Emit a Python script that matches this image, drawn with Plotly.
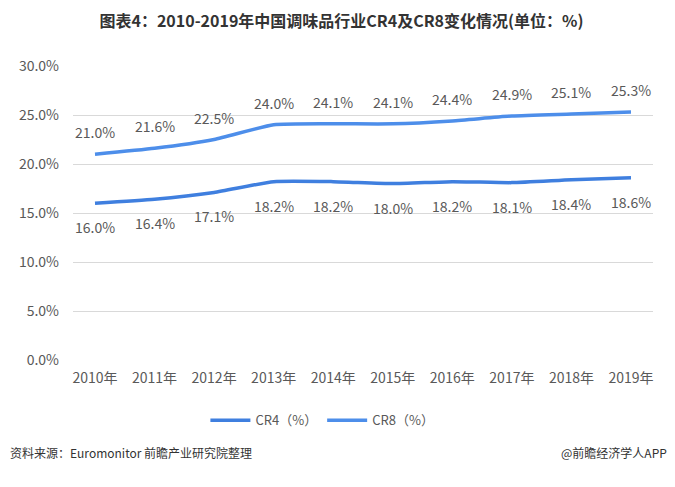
import plotly.graph_objects as go

years = ["2010年", "2011年", "2012年", "2013年", "2014年",
         "2015年", "2016年", "2017年", "2018年", "2019年"]
cr4 = [16.0, 16.4, 17.1, 18.2, 18.2, 18.0, 18.2, 18.1, 18.4, 18.6]
cr8 = [21.0, 21.6, 22.5, 24.0, 24.1, 24.1, 24.4, 24.9, 25.1, 25.3]
y_ticks = [0, 5, 10, 15, 20, 25, 30]

CR4_COLOR = "#3F7FDF"
CR8_COLOR = "#4D8EEA"
TEXT_GRAY = "#595959"
FONT = "Noto Sans CJK SC"

fig = go.Figure()

fig.add_trace(go.Scatter(
    x=years, y=cr4, name="CR4（%）", mode="lines",
    line=dict(color=CR4_COLOR, width=3.5, shape="spline", smoothing=0.5),
))
fig.add_trace(go.Scatter(
    x=years, y=cr8, name="CR8（%）", mode="lines",
    line=dict(color=CR8_COLOR, width=3.5, shape="spline", smoothing=0.5),
))

# 数据标签：CR8 在上，CR4 在下
for yr, v in zip(years, cr8):
    fig.add_annotation(x=yr, y=v, text=f"{v:.1f}%", showarrow=False,
                       yshift=22, font=dict(size=14, color=TEXT_GRAY, family=FONT))
for yr, v in zip(years, cr4):
    fig.add_annotation(x=yr, y=v, text=f"{v:.1f}%", showarrow=False,
                       yshift=-24, font=dict(size=14, color=TEXT_GRAY, family=FONT))

# 资料来源
fig.add_annotation(xref="paper", yref="paper", x=-0.112, y=-0.316,
                   xanchor="left", yanchor="middle", showarrow=False,
                   text="资料来源：Euromonitor 前瞻产业研究院整理",
                   font=dict(size=12, color="#333333", family=FONT))
fig.add_annotation(xref="paper", yref="paper", x=1.028, y=-0.316,
                   xanchor="right", yanchor="middle", showarrow=False,
                   text="@前瞻经济学人APP",
                   font=dict(size=12, color="#333333", family=FONT))

# 页面自带 8px 边距，图幅相应缩小
fig.update_layout(
    width=667, height=479,
    title=dict(text="<b>图表4：2010-2019年中国调味品行业CR4及CR8变化情况(单位：%)</b>",
               x=0.5, xanchor="center", y=0.973, yanchor="middle",
               font=dict(size=16, color="#333333", family=FONT)),
    margin=dict(l=65, r=22, t=58, b=127),
    plot_bgcolor="white", paper_bgcolor="white",
    showlegend=True,
    legend=dict(orientation="h", x=0.43, xanchor="center", y=-0.205, yanchor="middle",
                font=dict(size=13, color=TEXT_GRAY, family=FONT),
                itemwidth=40, traceorder="normal"),
    font=dict(family=FONT, color=TEXT_GRAY),
)
fig.update_xaxes(showgrid=False, showline=False, ticks="", ticklabelstandoff=8,
                 tickfont=dict(size=14, color=TEXT_GRAY, family=FONT))
fig.update_yaxes(range=[0, 30], tickvals=y_ticks,
                 ticktext=[f"{t:.1f}%" for t in y_ticks],
                 showgrid=True, gridcolor="#D9D9D9", gridwidth=1,
                 zeroline=False, showline=False, ticks="", ticklabelstandoff=13,
                 tickfont=dict(size=14, color=TEXT_GRAY, family=FONT))

fig.write_html("out.html")
